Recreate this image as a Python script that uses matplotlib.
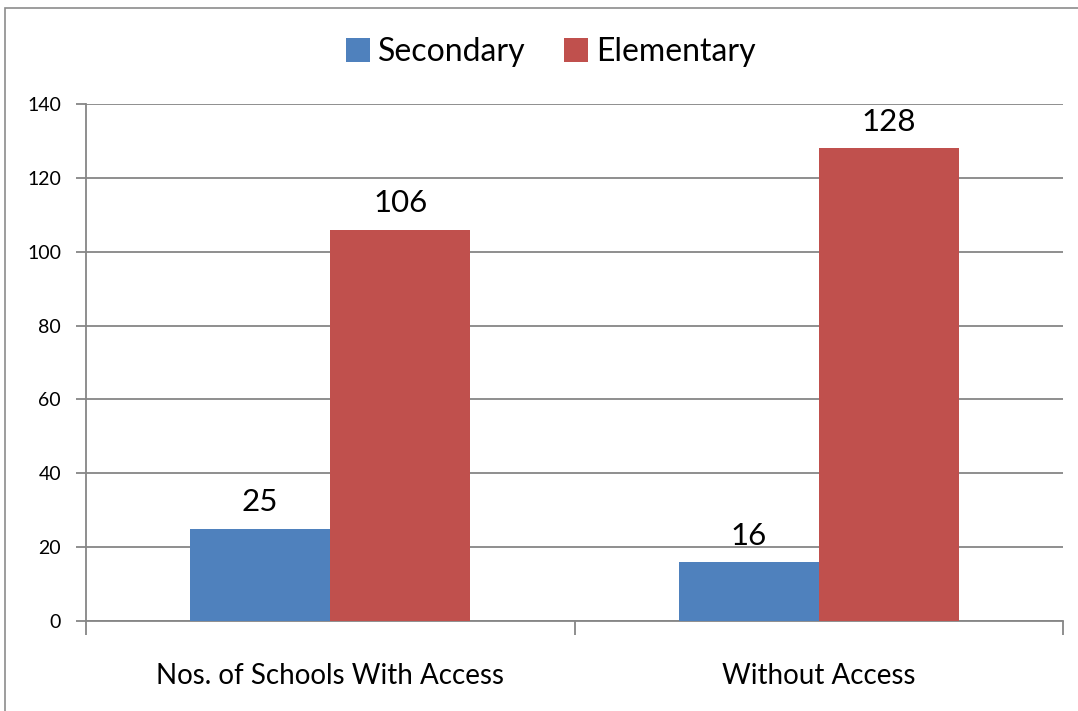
import matplotlib
matplotlib.use("Agg")
import matplotlib.pyplot as plt
import numpy as np
from matplotlib.patches import Rectangle

categories = ["Nos. of Schools With Access", "Without Access"]
secondary = [25, 16]
elementary = [106, 128]
y_ticks = [0, 20, 40, 60, 80, 100, 120, 140]

plt.rcParams["font.family"] = ["Lato", "DejaVu Sans"]

BLUE = "#4F81BD"
RED = "#C0504D"
GRID = "#868686"

fig = plt.figure(figsize=(10.78, 7.11), dpi=100)
ax = fig.add_axes([86 / 1078, 1 - 621 / 711, (1063 - 86) / 1078, (621 - 104) / 711])

# outer chart border
fig.patches.append(Rectangle((5 / 1078, -0.1), 1.2, 1 - 8 / 711 + 0.1,
                             transform=fig.transFigure, fill=False,
                             edgecolor="#8c8c8c", lw=1.2))

x = np.arange(len(categories))
w = 0.287
b1 = ax.bar(x - w / 2, secondary, w, color=BLUE, label="Secondary", zorder=3)
b2 = ax.bar(x + w / 2, elementary, w, color=RED, label="Elementary", zorder=3)

for bars, vals in [(b1, secondary), (b2, elementary)]:
    for r, v in zip(bars, vals):
        ax.text(r.get_x() + r.get_width() / 2, v + 3.3, str(v),
                ha="center", va="bottom", fontsize=22.5)

ax.set_xlim(-0.5, len(categories) - 0.5)
ax.set_ylim(0, 140)
ax.set_yticks(y_ticks)
ax.yaxis.grid(True, color=GRID, lw=1.3, zorder=0)
ax.set_axisbelow(True)

ax.set_xticks(x)
ax.set_xticklabels(categories, fontsize=20)
ax.set_xticks(np.arange(-0.5, len(categories)), minor=True)
ax.tick_params(axis="x", which="major", length=0, pad=30)
ax.tick_params(axis="x", which="minor", length=10, color=GRID, width=1.3)
ax.tick_params(axis="y", length=7, color=GRID, width=1.3, labelsize=14, pad=11)

for s in ["top", "right"]:
    ax.spines[s].set_visible(False)
for s in ["left", "bottom"]:
    ax.spines[s].set_color(GRID)
    ax.spines[s].set_linewidth(1.3)

fig.legend(loc="center", bbox_to_anchor=(551 / 1078, 1 - 52 / 711), ncol=2,
           frameon=False, fontsize=23, handlelength=0.75, handleheight=0.75,
           handletextpad=0.25, columnspacing=1.2)

fig.savefig("out.png", dpi=100)
